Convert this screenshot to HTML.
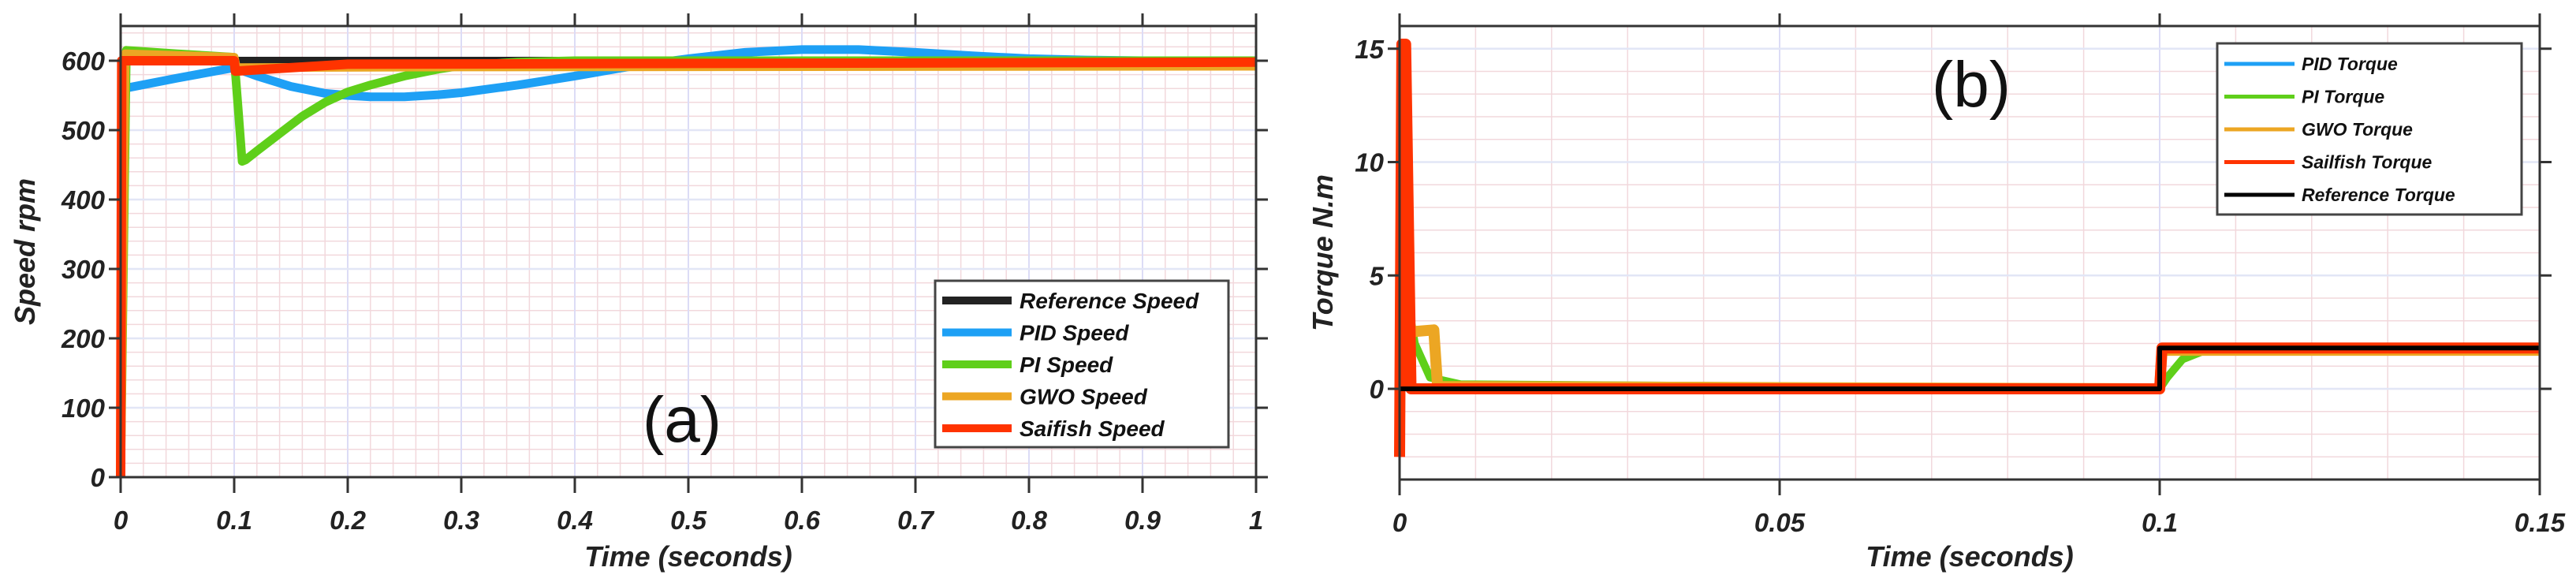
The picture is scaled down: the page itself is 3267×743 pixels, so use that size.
<!DOCTYPE html>
<html><head><meta charset="utf-8"><style>
body{margin:0;background:#fff}
svg{display:block;font-family:"Liberation Sans",sans-serif}
.tk{font-size:33px;font-weight:bold;font-style:italic;fill:#222}
.tt{font-size:36px;font-weight:bold;font-style:italic;fill:#222}
.lg{font-size:28px;font-weight:bold;font-style:italic;fill:#111}
.lg2{font-size:23px;font-weight:bold;font-style:italic;fill:#111}
</style></head><body>
<svg id="c" width="3267" height="743" viewBox="0 0 3267 743"></svg>
<script>
// ---- Chart (a) data ----
const aXTicks=[0,0.1,0.2,0.3,0.4,0.5,0.6,0.7,0.8,0.9,1];
const aXLabels=["0","0.1","0.2","0.3","0.4","0.5","0.6","0.7","0.8","0.9","1"];
const aYTicks=[0,100,200,300,400,500,600];
const aRefT=[0,0.002,1];const aRefV=[0,600,600];
const aPidT=[0,0.003,0.05,0.1,0.12,0.15,0.18,0.2,0.22,0.25,0.28,0.3,0.35,0.4,0.45,0.5,0.55,0.6,0.65,0.7,0.75,0.8,0.85,0.9,1];
const aPidV=[0,560,575,590,578,563,553,550,548,548,551,554,565,578,592,603,612,616,616,612,607,603,601,600,600];
const aPiT=[0,0.005,0.05,0.1,0.104,0.107,0.11,0.12,0.14,0.16,0.18,0.2,0.22,0.25,0.28,0.3,0.35,0.4,1];
const aPiV=[0,615,610,605,520,455,457,470,495,520,540,555,565,578,588,593,598,600,600];
const aGwoT=[0,0.004,0.1,0.102,0.3,1];
const aGwoV=[0,610,605,590,591,592];
const aSfT=[0,0.001,0.1,0.101,0.2,1];
const aSfV=[0,600,600,585,595,598];
// ---- Chart (b) data ----
const bXTicks=[0,0.05,0.1,0.15];
const bXLabels=["0","0.05","0.1","0.15"];
const bYTicks=[0,5,10,15];
const bRefT=[0,0.1,0.1,0.15];const bRefV=[0,0,1.8,1.8];
const bPidT=[0,0.0008,0.0016,0.1,0.1004,0.15];const bPidV=[0,10.3,0,0,1.8,1.8];
const bPiT=[0,0.001,0.002,0.004,0.008,0.1,0.101,0.103,0.106,0.15];
const bPiV=[5,4,2,0.5,0.2,0,0.5,1.3,1.7,1.8];
const bGwoT=[0,0.001,0.0045,0.005,0.1,0.1003,0.15];
const bGwoV=[2.5,2.5,2.6,0.1,0,1.7,1.7];
const bSfT=[0,0.0003,0.0008,0.0015,0.1,0.1003,0.15];
const bSfV=[-3,15.2,15.2,0,0,1.8,1.8];

const NS="http://www.w3.org/2000/svg";
const svg=document.getElementById('c');
function el(tag,attrs,parent,text){const e=document.createElementNS(NS,tag);for(const k in attrs)e.setAttribute(k,attrs[k]);if(text!==undefined)e.textContent=text;(parent||svg).appendChild(e);return e;}

function chart(o){
  const g=el('g',{});
  
  
  const X=v=>o.x0+(v-o.xmin)/(o.xmax-o.xmin)*(o.x1-o.x0);
  const Y=v=>o.y0-(v-o.ymin)/(o.ymax-o.ymin)*(o.y0-o.y1);
  el('rect',{x:o.x0,y:o.y1,width:o.x1-o.x0,height:o.y0-o.y1,fill:'#fff'},g);
  for(let v=o.xmin;v<=o.xmax+1e-9;v+=o.xminor){el('line',{x1:X(v),x2:X(v),y1:o.y1,y2:o.y0,stroke:'#f2d8dc','stroke-width':1.5},g);}
  for(let v=o.ymin;v<=o.ymax+1e-9;v+=o.yminor){el('line',{x1:o.x0,x2:o.x1,y1:Y(v),y2:Y(v),stroke:'#f2d8dc','stroke-width':1.5},g);}
  o.xt.forEach(v=>el('line',{x1:X(v),x2:X(v),y1:o.y1,y2:o.y0,stroke:'#dcdcf6','stroke-width':2},g));
  o.yt.forEach(v=>el('line',{x1:o.x0,x2:o.x1,y1:Y(v),y2:Y(v),stroke:'#e2e6f6','stroke-width':2.5},g));
  o.series.forEach(s=>{
    const pts=s.t.map((t,i)=>X(t).toFixed(1)+','+Y(s.v[i]).toFixed(1)).join(' ');
    const p=el('polyline',{points:pts,fill:'none',stroke:s.c,'stroke-width':s.w,'stroke-linejoin':'round'},g);
    
    
  });
  el('rect',{x:o.x0,y:o.y1,width:o.x1-o.x0,height:o.y0-o.y1,fill:'none',stroke:'#333','stroke-width':3},g);
  o.xt.forEach((v,i)=>{
    el('line',{x1:X(v),x2:X(v),y1:o.y0,y2:o.y0+20,stroke:'#333','stroke-width':3},g);
    el('line',{x1:X(v),x2:X(v),y1:o.y1,y2:o.y1-16,stroke:'#333','stroke-width':3},g);
    const t=el('text',{x:X(v),y:o.y0+66,'text-anchor':'middle',class:'tk'},g,o.xl[i]);
    
    
  });
  o.yt.forEach(v=>{
    el('line',{x1:o.x0-15,x2:o.x0,y1:Y(v),y2:Y(v),stroke:'#333','stroke-width':3},g);
    el('line',{x1:o.x1,x2:o.x1+15,y1:Y(v),y2:Y(v),stroke:'#333','stroke-width':3},g);
    const t=el('text',{x:o.x0-20,y:Y(v)+12,'text-anchor':'end',class:'tk'},g,String(v));
    
    
  });
  const xt=el('text',{x:(o.x0+o.x1)/2,y:718,'text-anchor':'middle',class:'tt'},g,'Time (seconds)');
  
  
  const yt=el('text',{x:o.ytx,y:(o.y0+o.y1)/2,'text-anchor':'middle',class:'tt',transform:`rotate(-90 ${o.ytx} ${(o.y0+o.y1)/2})`},g,o.ytitle);
  
  
  const pl=el('text',{x:o.px,y:o.py,'text-anchor':'middle','font-size':82,fill:'#111'},g,o.panel);
  
  
  const L=o.leg;
  const lg=el('g',{},g);
  
  
  el('rect',{x:L.x,y:L.y,width:L.w,height:L.h,fill:'#fff',stroke:'#444','stroke-width':3},lg);
  L.items.forEach((it,i)=>{
    const yy=L.y+L.first+i*L.step;
    el('line',{x1:L.x+L.lx0,x2:L.x+L.lx1,y1:yy,y2:yy,stroke:it[1],'stroke-width':L.lw},lg);
    const t=el('text',{x:L.x+L.tx,y:yy+L.dy,class:L.cls},lg,it[0]);
    
    
  });
}

chart({name:'speed-chart',x0:153,x1:1593,y0:605,y1:33,xmin:0,xmax:1,ymin:0,ymax:650,xminor:0.02,yminor:20,
  xt:aXTicks,xl:aXLabels,yt:aYTicks,ytitle:'Speed rpm',ytx:44,panel:'(a)',px:865,py:560,
  series:[
    {name:'reference-speed-line',t:aRefT,v:aRefV,c:'#222',w:10},
    {name:'pid-speed-line',t:aPidT,v:aPidV,c:'#1ea0f5',w:11},
    {name:'pi-speed-line',t:aPiT,v:aPiV,c:'#5fcf1a',w:11},
    {name:'gwo-speed-line',t:aGwoT,v:aGwoV,c:'#eca623',w:11},
    {name:'sailfish-speed-line',t:aSfT,v:aSfV,c:'#ff3300',w:12}],
  leg:{x:1186,y:356,w:372,h:211,first:25,step:40.5,lx0:9,lx1:97,lw:10,tx:107,dy:10,cls:'lg',
    items:[['Reference Speed','#222'],['PID Speed','#1ea0f5'],['PI Speed','#5fcf1a'],['GWO Speed','#eca623'],['Saifish Speed','#ff3300']]}
});
chart({name:'torque-chart',x0:1775,x1:3221,y0:608,y1:33,xmin:0,xmax:0.15,ymin:-4,ymax:16,xminor:0.01,yminor:1,
  xt:bXTicks,xl:bXLabels,yt:bYTicks,ytitle:'Torque N.m',ytx:1690,panel:'(b)',px:2500,py:135,
  series:[
    {name:'pid-torque-line',t:bPidT,v:bPidV,c:'#1ea0f5',w:8},
    {name:'pi-torque-line',t:bPiT,v:bPiV,c:'#5fcf1a',w:10},
    {name:'gwo-torque-line',t:bGwoT,v:bGwoV,c:'#eca623',w:14},
    {name:'sailfish-torque-line',t:bSfT,v:bSfV,c:'#ff3300',w:14},
    {name:'reference-torque-line',t:bRefT,v:bRefV,c:'#000',w:6}],
  leg:{x:2812,y:55,w:386,h:217,first:26,step:41.5,lx0:9,lx1:98,lw:5,tx:107,dy:8,cls:'lg2',
    items:[['PID Torque','#1ea0f5'],['PI Torque','#5fcf1a'],['GWO Torque','#eca623'],['Sailfish Torque','#ff3300'],['Reference Torque','#000']]}
});
</script>
</body></html>
